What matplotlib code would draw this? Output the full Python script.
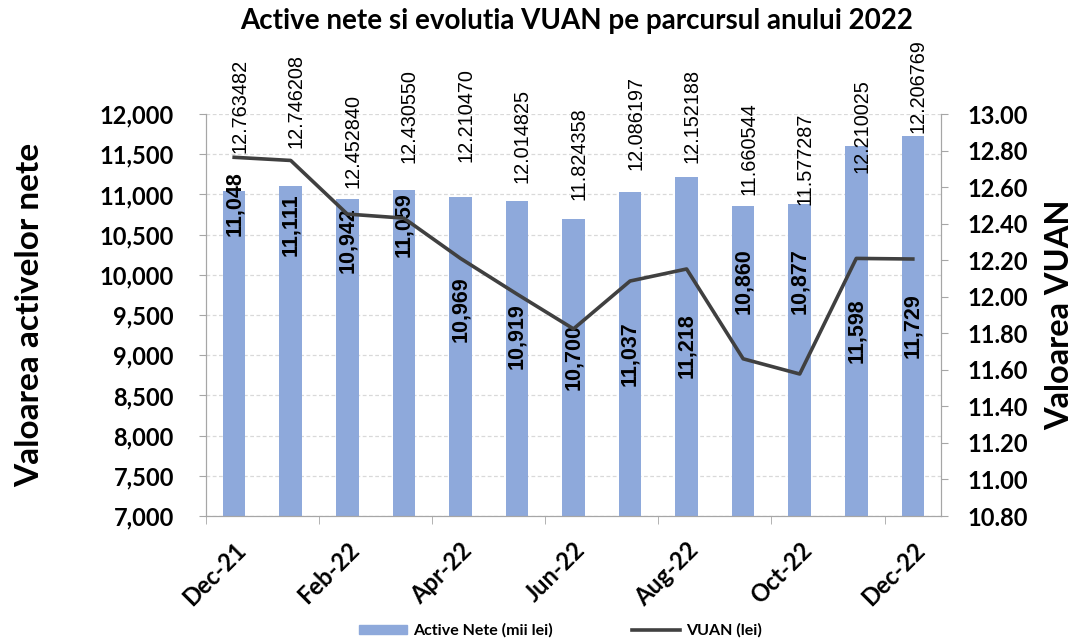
import matplotlib
matplotlib.use("Agg")
import matplotlib.pyplot as plt
import matplotlib.transforms as mtransforms
from matplotlib.lines import Line2D
from matplotlib.patches import Patch

# data
months = ["Dec-21", "Jan-22", "Feb-22", "Mar-22", "Apr-22", "May-22", "Jun-22",
          "Jul-22", "Aug-22", "Sep-22", "Oct-22", "Nov-22", "Dec-22"]
active_nete = [11048, 11111, 10942, 11059, 10969, 10919, 10700,
               11037, 11218, 10860, 10877, 11598, 11729]
vuan = [12.763482, 12.746208, 12.452840, 12.430550, 12.210470, 12.014825, 11.824358,
        12.086197, 12.152188, 11.660544, 11.577287, 12.210025, 12.206769]

# where the (manually placed) labels sit, in axis units
bar_label_y = [10887, 10619, 10433, 10619, 9575, 9239, 8984,
               9021, 9114, 9923, 9923, 9301, 9363]
vuan_label_y = [12.787, 12.814, 12.595, 12.732, 12.737, 12.622, 12.529,
                12.693, 12.732, 12.557, 12.502, 12.677, 12.896]

BAR_COLOR = "#8EA9DB"
LINE_COLOR = "#404040"
AXIS_COLOR = "#A6A6A6"
CAL = "Lato"
ARIAL = "Liberation Sans"

fig = plt.figure(figsize=(10.78, 6.41), dpi=100)
ax = fig.add_axes([0.191, 0.195, 0.682, 0.627])
ax2 = ax.twinx()

x = list(range(len(months)))
ax.bar(x, active_nete, width=0.4, color=BAR_COLOR, zorder=2)
ax2.plot(x, vuan, color=LINE_COLOR, linewidth=2.6, zorder=3)

ax.set_xlim(-0.5, len(months) - 0.5)
ax.set_ylim(7000, 12000)
ax2.set_ylim(10.8, 13.0)

ax.set_yticks(range(7000, 12001, 500))
ax.set_yticklabels([f"{v:,}" for v in range(7000, 12001, 500)],
                   fontfamily=CAL, fontweight="bold", fontsize=17)
r_ticks = [10.8 + 0.2 * i for i in range(12)]
ax2.set_yticks(r_ticks)
ax2.set_yticklabels([f"{v:.2f}" for v in r_ticks],
                    fontfamily=CAL, fontweight="bold", fontsize=17)

ax.set_xticks(x[::2])
ax.set_xticklabels(months[::2], rotation=45, ha="right", rotation_mode="anchor",
                   fontfamily=CAL, fontweight="bold", fontsize=17)
ax.set_xticks([i - 0.5 for i in x[::2]], minor=True)
ax.tick_params(axis="x", which="major", length=0, pad=16)
ax.tick_params(axis="x", which="minor", length=6, color=AXIS_COLOR)
ax.tick_params(axis="y", length=5, color=AXIS_COLOR, pad=18)
ax2.tick_params(axis="y", length=5, color=AXIS_COLOR, pad=14)

ax.grid(axis="y", linestyle=(0, (3, 2)), color="#D9D9D9", linewidth=0.9, zorder=0)
ax.set_axisbelow(True)

for a in (ax, ax2):
    a.spines["top"].set_visible(False)
    for s in ("left", "right", "bottom"):
        a.spines[s].set_color(AXIS_COLOR)

# bar value labels
for i, v in enumerate(active_nete):
    ax.text(i, bar_label_y[i], f"{v:,}", rotation=90, ha="center", va="center",
            fontfamily=ARIAL, fontweight="bold", fontsize=15.5, color="black", zorder=4)

# VUAN value labels, a little to the right of each point
shift = mtransforms.offset_copy(ax2.transData, fig=fig, x=4, y=0, units="points")
for i, v in enumerate(vuan):
    ax2.text(i, vuan_label_y[i], f"{v:.6f}", transform=shift,
             rotation=90, ha="center", va="bottom", fontfamily=ARIAL, fontsize=14.3,
             color="black", clip_on=False, zorder=4)

ax.set_ylabel("Valoarea activelor nete", fontfamily=CAL, fontweight="bold", fontsize=24, labelpad=40)
ax2.set_ylabel("Valoarea VUAN", fontfamily=CAL, fontweight="bold", fontsize=23.5,
               rotation=90, labelpad=12)

fig.text(0.535, 0.968, "Active nete si evolutia VUAN pe parcursul anului 2022",
         ha="center", va="center", fontfamily=CAL, fontweight="bold", fontsize=20)

handles = [Patch(color=BAR_COLOR), Line2D([0], [0], color=LINE_COLOR, linewidth=2.6)]
fig.legend(handles, ["Active Nete (mii lei)", "VUAN (lei)"], loc="center",
           bbox_to_anchor=(0.52, 0.016), ncol=2, frameon=False, columnspacing=5.0,
           handlelength=3.0, handleheight=0.5, handletextpad=0.35,
           prop={"family": CAL, "weight": "bold", "size": 11.5})

fig.savefig("out.png", dpi=100)
